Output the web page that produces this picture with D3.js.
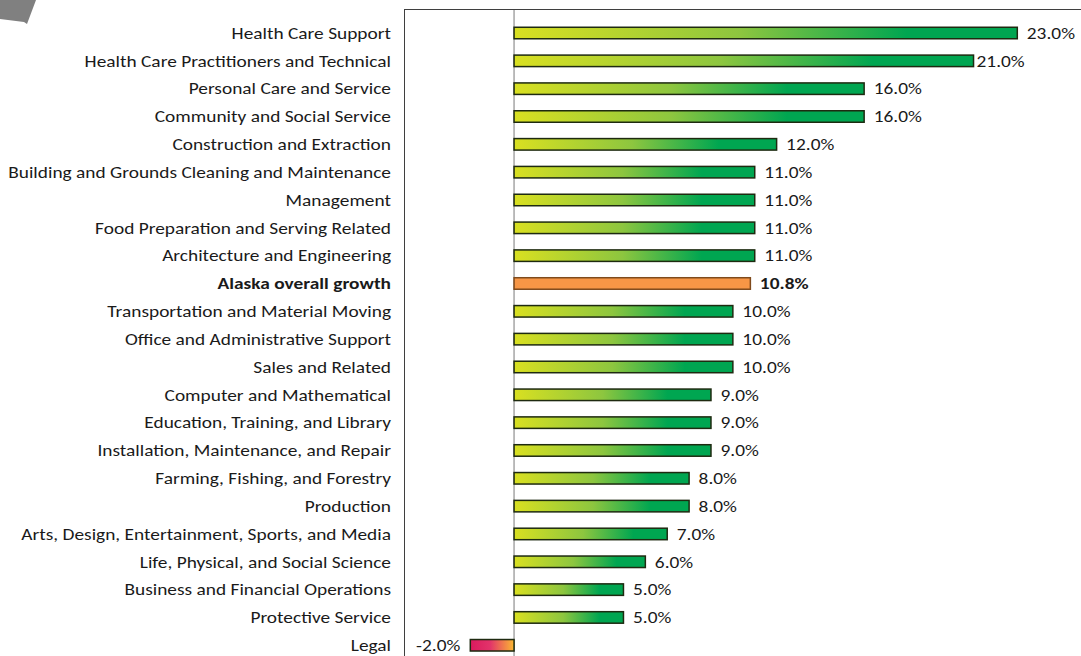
<!DOCTYPE html>
<html><head><meta charset="utf-8">
<script src="https://cdn.jsdelivr.net/npm/d3@7"></script>
<style>
html,body{margin:0;padding:0;background:#fff;overflow:hidden}
svg{display:block}
text{font-family:Carlito,Lato,"Open Sans",sans-serif;fill:#1a1a1a}
</style></head>
<body>
<script>
const categories = [
  "Health Care Support",
  "Health Care Practitioners and Technical",
  "Personal Care and Service",
  "Community and Social Service",
  "Construction and Extraction",
  "Building and Grounds Cleaning and Maintenance",
  "Management",
  "Food Preparation and Serving Related",
  "Architecture and Engineering",
  "Alaska overall growth",
  "Transportation and Material Moving",
  "Office and Administrative Support",
  "Sales and Related",
  "Computer and Mathematical",
  "Education, Training, and Library",
  "Installation, Maintenance, and Repair",
  "Farming, Fishing, and Forestry",
  "Production",
  "Arts, Design, Entertainment, Sports, and Media",
  "Life, Physical, and Social Science",
  "Business and Financial Operations",
  "Protective Service",
  "Legal"
];
const growth = [23.0, 21.0, 16.0, 16.0, 12.0, 11.0, 11.0, 11.0, 11.0, 10.8, 10.0, 10.0, 10.0, 9.0, 9.0, 9.0, 8.0, 8.0, 7.0, 6.0, 5.0, 5.0, -2.0];
const valueLabels = ["23.0%","21.0%","16.0%","16.0%","12.0%","11.0%","11.0%","11.0%","11.0%","10.8%","10.0%","10.0%","10.0%","9.0%","9.0%","9.0%","8.0%","8.0%","7.0%","6.0%","5.0%","5.0%","-2.0%"];
const highlight = "Alaska overall growth";

const W = 1081, H = 656;
const FS = 16.5;
const svg = d3.select("body").append("svg").attr("width", W).attr("height", H);

const defs = svg.append("defs");
const gPos = defs.append("linearGradient").attr("id","gpos").attr("x1","0").attr("x2","1").attr("y1","0").attr("y2","0");
gPos.append("stop").attr("offset","0").attr("stop-color","#d9e021");
gPos.append("stop").attr("offset","0.45").attr("stop-color","#8dc63f");
gPos.append("stop").attr("offset","0.78").attr("stop-color","#00a651");
gPos.append("stop").attr("offset","1").attr("stop-color","#00a651");
const gNeg = defs.append("linearGradient").attr("id","gneg").attr("x1","0").attr("x2","1").attr("y1","0").attr("y2","0");
gNeg.append("stop").attr("offset","0").attr("stop-color","#db1a5e");
gNeg.append("stop").attr("offset","0.45").attr("stop-color","#e2336a");
gNeg.append("stop").attr("offset","1").attr("stop-color","#fbb832");

// decorative gray shape at top-left
svg.append("path").attr("d","M0,0 L36,0 L27,24 L24,22 L0,19 Z").attr("fill","#808080");

const x = d3.scaleLinear().domain([-2, 23]).range([470.3, 1017.3]);
const y = d3.scaleBand().domain(categories).range([19.1, 19.1 + 23 * 27.83]).paddingInner(0.587).paddingOuter(0.2935);

// plot frame
svg.append("rect").attr("x",404.5).attr("y",9.5).attr("width",800).attr("height",800)
  .attr("fill","none").attr("stroke","#3f3f3f").attr("stroke-width",1);
// zero line
svg.append("line").attr("x1",x(0)).attr("x2",x(0)).attr("y1",10).attr("y2",H)
  .attr("stroke","#a6a6a6").attr("stroke-width",1.5);

const rows = categories.map((c,i)=>({c, v:growth[i], lab:valueLabels[i]}));

svg.append("g").selectAll("rect").data(rows).join("rect")
  .attr("x", d=>x(Math.min(0,d.v)))
  .attr("y", d=>y(d.c))
  .attr("width", d=>Math.abs(x(d.v)-x(0)))
  .attr("height", y.bandwidth())
  .attr("fill", d=> d.c===highlight ? "#f79646" : (d.v<0 ? "url(#gneg)" : "url(#gpos)"))
  .attr("stroke", d=> d.c===highlight ? "#7f4a1c" : "#1e2a10")
  .attr("stroke-width", 1.5);

// category labels
const catText = svg.append("g").selectAll("text").data(rows).join("text")
  .attr("x", 0).attr("y", 0)
  .attr("dy","0.35em").attr("text-anchor","end")
  .style("font-size", FS + "px")
  .style("font-weight", d=>d.c===highlight?"bold":"normal")
  .text(d=>d.c);

// the reference text is a little wider than the font's natural width: stretch horizontally
let maxW = 0;
catText.each(function(d){ if(d.c!==highlight) maxW = Math.max(maxW, this.getComputedTextLength()); });
const sx = Math.max(0.9, Math.min(1.3, 383 / maxW));
catText.attr("transform", d=>`translate(391,${y(d.c)+y.bandwidth()/2}) scale(${sx},1)`);

// value labels
svg.append("g").selectAll("text").data(rows).join("text")
  .attr("x", 0).attr("y", 0)
  .attr("transform", d=>{
    const tx = d.v<0 ? x(d.v)-10 : x(d.v) + (d.c==="Health Care Practitioners and Technical" ? 3 : 9.5);
    return `translate(${tx},${y(d.c)+y.bandwidth()/2}) scale(${sx},1)`;
  })
  .attr("dy","0.35em").attr("text-anchor", d=>d.v<0?"end":"start")
  .style("font-size", FS + "px")
  .style("font-weight", d=>d.c===highlight?"bold":"normal")
  .text(d=>d.lab);
</script>
</body></html>
